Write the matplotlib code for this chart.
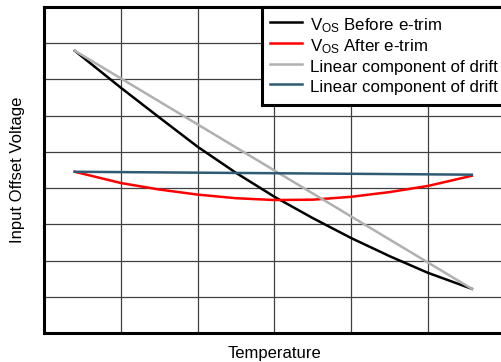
import matplotlib
matplotlib.use("Agg")
import matplotlib.pyplot as plt

plt.rcParams['font.family'] = ['Liberation Sans', 'DejaVu Sans']
plt.rcParams['mathtext.default'] = 'regular'

# values in grid units (6 columns x 9 rows, no tick labels on the original)
temp = [0.40, 1.0, 1.5, 2.0, 2.5, 3.0, 3.5, 4.0, 4.5, 5.0, 5.57]
vos_before = [7.79, 6.77, 5.95, 5.14, 4.42, 3.76, 3.17, 2.62, 2.12, 1.66, 1.22]
vos_after = [4.45, 4.14, 3.96, 3.82, 3.72, 3.67, 3.68, 3.76, 3.89, 4.06, 4.34]
lin_temp = [0.40, 5.57]
lin_before = [7.79, 1.22]
lin_after = [4.45, 4.37]

labels = [r'V$_{OS}$ Before e-trim', r'V$_{OS}$ After e-trim',
          'Linear component of drift', 'Linear component of drift']

fig = plt.figure(figsize=(5.01, 3.62), dpi=100)
ax = fig.add_axes([0.0878, 0.080, 0.920, 0.901])

ax.plot(temp, vos_before, color='black', lw=1.8, label=labels[0])
ax.plot(temp, vos_after, color='#ff0000', lw=1.8, label=labels[1])
ax.plot(lin_temp, lin_before, color='#b0b0b0', lw=1.8, label=labels[2])
ax.plot(lin_temp, lin_after, color='#2e5a74', lw=1.8, label=labels[3])

ax.set_xlim(0, 6)
ax.set_ylim(0, 9)
ax.set_xticks(range(0, 7))
ax.set_yticks(range(0, 10))
ax.tick_params(length=0, labelbottom=False, labelleft=False)
ax.grid(True, color='#404040', lw=0.9)
ax.set_axisbelow(True)
for s in ax.spines.values():
    s.set_linewidth(2.2)

ax.set_xlabel('Temperature', fontsize=12, labelpad=9)
ax.set_ylabel('Input Offset Voltage', fontsize=12, labelpad=14)

leg = ax.legend(loc='upper left', bbox_to_anchor=(0.473, 1.0), borderaxespad=0,
                fontsize=12.2, frameon=True, fancybox=False, framealpha=1,
                edgecolor='black', handlelength=1.9, handletextpad=0.5,
                handleheight=1.5, labelspacing=0.0, borderpad=0.45)
leg.get_frame().set_linewidth(2.2)

fig.savefig('out.png', dpi=100)
